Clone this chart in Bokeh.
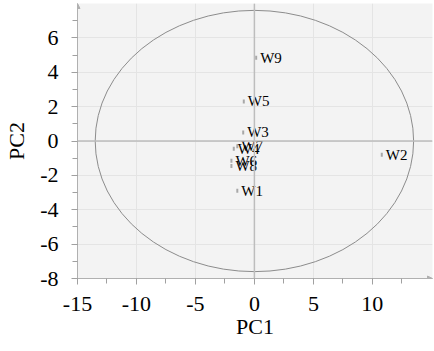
from bokeh.plotting import figure
from bokeh.models import Range1d, Span, FixedTicker, ColumnDataSource, Arrow, NormalHead
from bokeh.core.properties import value
from bokeh.embed import file_html
from bokeh.resources import INLINE

# Data
names = ["W1", "W2", "W3", "W4", "W5", "W6", "W7", "W8", "W9"]
pc1 = [-1.45, 10.8, -0.95, -1.75, -0.9, -1.95, -1.45, -1.95, 0.15]
pc2 = [-2.9, -0.8, 0.5, -0.45, 2.3, -1.15, -0.3, -1.45, 4.85]
ellipse_center = [0.0, 0.0]
ellipse_size = [27.0, 15.2]
x_ticks = [-15, -10, -5, 0, 5, 10]
y_ticks = [-8, -6, -4, -2, 0, 2, 4, 6]
x_tick_labels = ["-15", "-10", "-5", "0", "5", "10"]
y_tick_labels = ["-8", "-6", "-4", "-2", "0", "2", "4", "6"]
x_minor = [-15, -12.5, -10, -7.5, -5, -2.5, 0, 2.5, 5, 7.5, 10, 12.5]
y_minor = list(range(-8, 8))

FONT = "Liberation Serif"

p = figure(width=434, height=351, output_backend="svg", toolbar_location=None,
           x_range=Range1d(-15, 15.1), y_range=Range1d(-8, 8),
           min_border_left=77, min_border_right=2, min_border_top=3, min_border_bottom=73)
p.background_fill_color = "#f3f3f3"
p.border_fill_color = "white"
p.outline_line_color = None

p.xgrid.ticker = FixedTicker(ticks=x_ticks)
p.ygrid.ticker = FixedTicker(ticks=y_ticks)
for g in (p.xgrid, p.ygrid):
    g.grid_line_color = "#e4e4e4"
    g.grid_line_width = 1

p.xaxis.ticker = FixedTicker(ticks=x_ticks, minor_ticks=x_minor)
p.yaxis.ticker = FixedTicker(ticks=y_ticks, minor_ticks=y_minor)
p.xaxis.major_label_overrides = {t: l for t, l in zip(x_ticks, x_tick_labels)}
p.yaxis.major_label_overrides = {t: l for t, l in zip(y_ticks, y_tick_labels)}
for ax in (p.xaxis, p.yaxis):
    ax.axis_line_color = "#b0b0b0"
    ax.major_tick_line_color = "#a0a0a0"
    ax.minor_tick_line_color = "#a0a0a0"
    ax.major_tick_out = 6
    ax.major_tick_in = 0
    ax.minor_tick_out = 5
    ax.minor_tick_in = 0
    ax.major_label_text_font = FONT
    ax.major_label_text_font_size = "22px"
    ax.major_label_text_color = "black"
    ax.axis_label_text_font = FONT
    ax.axis_label_text_font_size = "22px"
    ax.axis_label_text_font_style = "normal"
    ax.axis_label_text_color = "black"
p.xaxis.axis_label = "PC1"
p.yaxis.axis_label = "PC2"
p.xaxis.major_label_standoff = 12
p.yaxis.major_label_standoff = 13
p.xaxis.axis_label_standoff = 0
p.yaxis.axis_label_standoff = 8

# center lines
p.add_layout(Span(location=0, dimension="height", line_color="#bdbdbd", line_width=1.5))
p.add_layout(Span(location=0, dimension="width", line_color="#bdbdbd", line_width=1.5))

# ellipse
p.ellipse(x=[ellipse_center[0]], y=[ellipse_center[1]], width=[ellipse_size[0]],
          height=[ellipse_size[1]], fill_color=None, line_color="#8c8c8c", line_width=1)

src = ColumnDataSource(dict(x=pc1, y=pc2, name=names))
p.rect(x="x", y="y", width=2, height=4, width_units="screen", height_units="screen",
       source=src, fill_color="#a8a8a8", line_color=None)
p.text(x="x", y="y", text="name", source=src, x_offset=4, text_baseline="middle",
       text_font=value(FONT), text_font_size="15px", text_color="black")

# axis arrows
p.add_layout(Arrow(end=NormalHead(size=5, line_color="#b0b0b0", fill_color="#b0b0b0"),
                   x_start=15.0, y_start=-8, x_end=15.1, y_end=-8, line_color="#b0b0b0"))
p.add_layout(Arrow(end=NormalHead(size=5, line_color="#b0b0b0", fill_color="#b0b0b0"),
                   x_start=-15, y_start=7.9, x_end=-15, y_end=8, line_color="#b0b0b0"))

open("out.html", "w").write(file_html(p, INLINE))
